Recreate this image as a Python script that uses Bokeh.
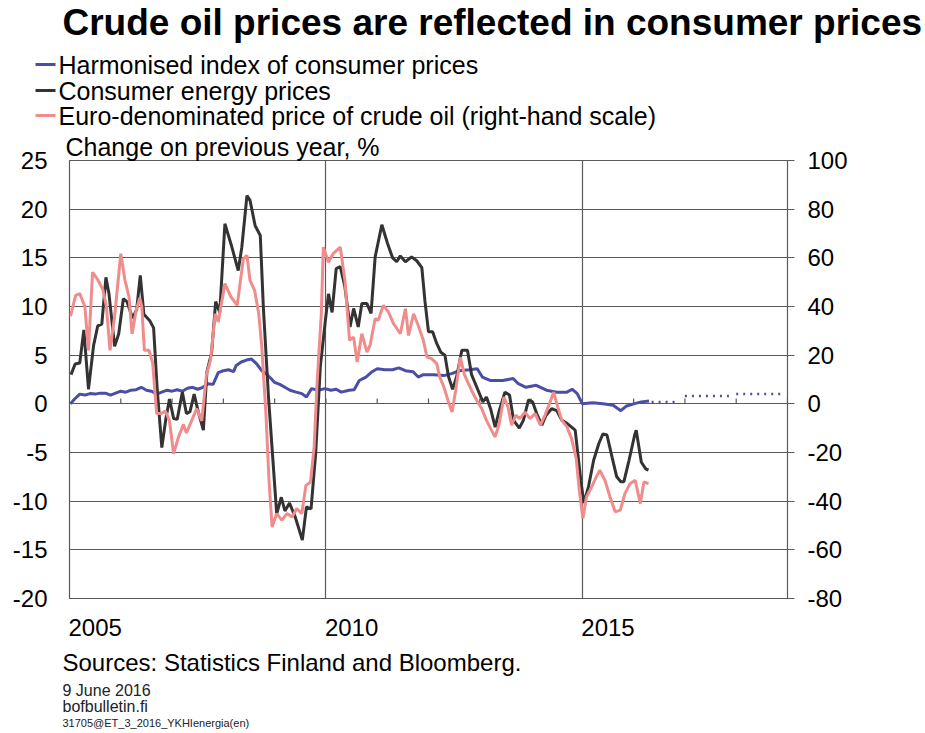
from bokeh.plotting import figure
from bokeh.layouts import column
from bokeh.models import (Range1d, LinearAxis, FixedTicker, Title, CustomJSTickFormatter)
from bokeh.core.properties import value
from bokeh.embed import file_html
from bokeh.resources import INLINE

FONT = "Liberation Sans"

# ---------------- data (decimal years) ----------------
hicp_t = [2005.02, 2005.1, 2005.2, 2005.3, 2005.4, 2005.5, 2005.6, 2005.7, 2005.8, 2005.9,
          2006.0, 2006.1, 2006.2, 2006.3, 2006.4, 2006.5, 2006.6, 2006.7, 2006.8, 2006.9,
          2007.0, 2007.1, 2007.2, 2007.3, 2007.4, 2007.5, 2007.6, 2007.7, 2007.8, 2007.9,
          2008.0, 2008.1, 2008.2, 2008.25, 2008.35, 2008.45, 2008.55, 2008.65, 2008.75, 2008.83,
          2008.93, 2009.0, 2009.1, 2009.2, 2009.3, 2009.42, 2009.53, 2009.62, 2009.72, 2009.85,
          2009.98, 2010.1, 2010.2, 2010.3, 2010.45, 2010.55, 2010.65, 2010.78, 2010.9, 2011.0,
          2011.15, 2011.3, 2011.42, 2011.55, 2011.7, 2011.8, 2011.9, 2012.1, 2012.3, 2012.45,
          2012.6, 2012.8, 2012.95, 2013.05, 2013.2, 2013.45, 2013.65, 2013.75, 2013.9, 2014.1,
          2014.3, 2014.5, 2014.7, 2014.8, 2014.9, 2015.0, 2015.2, 2015.4, 2015.6, 2015.75,
          2015.85, 2016.0, 2016.15, 2016.3]
hicp = [0.0, 0.5, 1.0, 0.9, 1.05, 1.0, 1.1, 1.1, 0.9, 1.1,
        1.3, 1.2, 1.4, 1.45, 1.7, 1.4, 1.3, 1.0, 1.2, 1.4,
        1.3, 1.45, 1.3, 1.6, 1.7, 1.5, 1.7, 2.07, 2.0, 3.2,
        3.4, 3.5, 3.3, 3.95, 4.3, 4.5, 4.6, 4.1, 3.4, 3.1,
        2.6, 2.2, 2.0, 1.7, 1.4, 1.2, 1.05, 0.7, 1.56, 1.4,
        1.56, 1.4, 1.5, 1.2, 1.4, 1.45, 2.4, 2.75, 3.3, 3.6,
        3.5, 3.5, 3.7, 3.4, 3.3, 2.75, 3.0, 3.0, 2.9, 3.1,
        3.4, 3.5, 3.6, 2.75, 2.4, 2.4, 2.6, 2.07, 1.7, 1.9,
        1.4, 1.2, 1.2, 1.5, 1.05, 0.0, 0.1, 0.0, -0.15, -0.7,
        -0.25, 0.0, 0.2, 0.3]

forecast_years = [2016, 2017, 2018]
forecast_hicp = [0.2, 0.8, 1.0]

energy_t = [2005.03, 2005.11, 2005.2, 2005.28, 2005.37, 2005.47, 2005.55, 2005.63, 2005.71, 2005.77,
            2005.88, 2005.96, 2006.05, 2006.12, 2006.23, 2006.31, 2006.38, 2006.45, 2006.57, 2006.64,
            2006.71, 2006.8, 2006.88, 2006.95, 2007.03, 2007.1, 2007.2, 2007.28, 2007.35, 2007.43,
            2007.51, 2007.61, 2007.68, 2007.77, 2007.85, 2007.93, 2008.03, 2008.15, 2008.29, 2008.36,
            2008.46, 2008.52, 2008.62, 2008.72, 2008.78, 2008.88, 2008.98, 2009.04, 2009.13, 2009.2,
            2009.29, 2009.4, 2009.54, 2009.62, 2009.71, 2009.8, 2009.89, 2009.99, 2010.05, 2010.12,
            2010.2, 2010.28, 2010.37, 2010.47, 2010.54, 2010.63, 2010.7, 2010.8, 2010.88, 2010.96,
            2011.09, 2011.2, 2011.3, 2011.38, 2011.45, 2011.55, 2011.67, 2011.77, 2011.87, 2011.93,
            2012.0, 2012.08, 2012.16, 2012.24, 2012.32, 2012.39, 2012.47, 2012.55, 2012.65, 2012.76,
            2012.84, 2012.95, 2013.06, 2013.13, 2013.21, 2013.3, 2013.38, 2013.49, 2013.58, 2013.66,
            2013.77, 2013.85, 2013.95, 2014.03, 2014.11, 2014.21, 2014.29, 2014.4, 2014.5, 2014.6,
            2014.7, 2014.79, 2014.86, 2014.92, 2014.97, 2015.03, 2015.12, 2015.22, 2015.32, 2015.4,
            2015.48, 2015.58, 2015.67, 2015.75, 2015.81, 2015.91, 2016.02, 2016.05, 2016.15, 2016.24,
            2016.29]
energy = [3.0, 4.1, 4.2, 7.6, 1.5, 6.0, 8.0, 8.2, 13.0, 11.3,
          5.9, 7.2, 10.8, 10.5, 8.8, 9.7, 13.2, 9.2, 8.5, 7.8,
          1.5, -4.5, -1.5, 0.5, -1.5, -1.6, 1.2, -1.0, -0.8, 1.0,
          -0.8, -2.7, 3.3, 5.2, 10.5, 9.4, 18.5, 16.4, 13.7, 16.1,
          21.4, 20.9, 18.3, 17.3, 9.9, 0.7, -6.8, -11.3, -9.6, -11.0,
          -10.2, -11.6, -14.0, -10.6, -10.8, -5.1, 3.8, 8.6, 11.3, 9.4,
          13.9, 14.1, 12.0, 7.9, 9.8, 7.9, 10.3, 10.3, 9.3, 15.1,
          18.4, 16.5, 15.0, 14.6, 15.2, 14.6, 15.1, 14.7, 14.0, 10.6,
          7.4, 7.4, 6.2, 5.3, 5.0, 2.8, 1.5, 2.8, 5.5, 5.5,
          3.0, 1.6, 0.2, 0.7, -0.5, -2.4, -0.7, 1.2, 0.9, -1.7,
          -2.5, -1.7, 0.4, 0.2, -1.0, -2.2, -1.2, -0.5, -0.7, -1.7,
          -2.0, -2.4, -2.7, -5.5, -7.9, -10.2, -8.5, -5.8, -4.1, -3.1,
          -3.2, -5.5, -7.5, -8.0, -8.0, -5.8, -3.2, -2.7, -6.0, -6.7,
          -6.8]

oil_t = [2005.02, 2005.12, 2005.2, 2005.3, 2005.37, 2005.45, 2005.55, 2005.65, 2005.72, 2005.79,
         2005.88, 2006.0, 2006.08, 2006.16, 2006.22, 2006.3, 2006.37, 2006.41, 2006.46, 2006.55,
         2006.62, 2006.7, 2006.78, 2006.87, 2006.95, 2007.03, 2007.12, 2007.22, 2007.28, 2007.4,
         2007.48, 2007.58, 2007.67, 2007.75, 2007.84, 2007.9, 2008.03, 2008.15, 2008.27, 2008.39,
         2008.46, 2008.52, 2008.61, 2008.69, 2008.75, 2008.83, 2008.89, 2008.95, 2009.04, 2009.14,
         2009.24, 2009.34, 2009.43, 2009.53, 2009.61, 2009.7, 2009.77, 2009.83, 2009.91, 2009.95,
         2010.05, 2010.14, 2010.28, 2010.37, 2010.46, 2010.54, 2010.61, 2010.7, 2010.8, 2010.86,
         2010.96, 2011.02, 2011.12, 2011.22, 2011.32, 2011.45, 2011.55, 2011.61, 2011.71, 2011.8,
         2011.9, 2011.97, 2012.06, 2012.16, 2012.22, 2012.3, 2012.38, 2012.46, 2012.53, 2012.62,
         2012.7, 2012.84, 2012.94, 2013.04, 2013.13, 2013.23, 2013.3, 2013.38, 2013.47, 2013.55,
         2013.62, 2013.7, 2013.78, 2013.88, 2013.98, 2014.08, 2014.18, 2014.27, 2014.36, 2014.44,
         2014.52, 2014.6, 2014.7, 2014.79, 2014.88, 2014.94, 2015.01, 2015.08, 2015.18, 2015.27,
         2015.34, 2015.44, 2015.54, 2015.64, 2015.74, 2015.83, 2015.93, 2016.03, 2016.13, 2016.2,
         2016.29]
oil = [36, 44.6, 45.3, 40, 22, 54, 51, 47, 40, 22,
       36, 61.7, 51, 44, 28.8, 38.5, 43.5, 40, 22, 22,
       17, -4, -4, -3, -7, -20.5, -14, -8.5, -12, -6,
       -2, -7, 12, 18, 37, 33.6, 49.4, 43.9, 40.5, 59.6,
       61, 50.7, 46.6, 37, 23.3, -4, -31.4, -50.6, -45.1, -47.8,
       -45.1, -46.5, -43, -45.1, -33.5, -32.1, -17.7, 9.7, 37, 64.4,
       58.2, 61.7, 64.4, 50.7, 26.1, 27.4, 17.2, 28.8, 21.3, 24,
       35, 34.3, 40.5, 37.7, 32.9, 28.8, 39.1, 28.1, 37, 32.2,
       26.1, 19.2, 18.6, 16.5, 11, 6.9, 1.4, -3.4, 5.5, 19.2,
       12, 5.5, 1.4, -2, -6.8, -10.9, -13.6, -8.1, 2.8, -1.3,
       -8.8, -4.7, -6.1, -3.4, -6.1, -4, -8.8, -4.7, 0.1, 4.8,
       -1.3, -6.8, -9.5, -14.3, -22.5, -35.5, -47.1, -38.3, -34.2, -30.1,
       -27.3, -31.4, -38.3, -44.4, -43.7, -36.9, -32.8, -31.4, -41, -32.1,
       -32.8]

left_ticks = [-20, -15, -10, -5, 0, 5, 10, 15, 20, 25]
right_ticks = [-80, -60, -40, -20, 0, 20, 40, 60, 80, 100]
year_label_ticks = [2005.5, 2010.5, 2015.5]
grid_years = [2010, 2015]
axis_years = list(range(2006, 2020))

series_names = ["Harmonised index of consumer prices",
                "Consumer energy prices",
                "Euro-denominated price of crude oil (right-hand scale)"]
title_text = "Crude oil prices are reflected in consumer prices"
unit_text = "Change on previous year, %"
footer_texts = ["Sources: Statistics Finland and Bloomberg.", "9 June 2016",
                "bofbulletin.fi", "31705@ET_3_2016_YKHIenergia(en)"]

BLUE = "#4a4fa6"
BLACK = "#333333"
RED = "#f08c8c"
GRID = "#5a5a5a"
WIDTH = 925


def blank_figure(height):
    f = figure(width=WIDTH, height=height, x_range=Range1d(0, WIDTH), y_range=Range1d(height, 0),
               x_axis_location=None, y_axis_location=None, toolbar_location=None,
               output_backend="svg", min_border=0, title=None)
    f.frame_align = False
    f.grid.visible = False
    f.outline_line_color = None
    f.background_fill_color = "white"
    f.border_fill_color = "white"
    return f


# ---------------- header: title and legend ----------------
HEAD_H = 130
hdr = blank_figure(HEAD_H)
hdr.text(x=[62], y=[22], text=[title_text], text_font=value(FONT), text_font_size=value("37px"),
         text_font_style="bold", text_baseline="middle", text_align="left", text_color="black")
leg_y = [64, 90, 115]
hdr.segment(x0=[35] * 3, y0=leg_y, x1=[55] * 3, y1=leg_y,
            line_color=[BLUE, BLACK, RED], line_width=3)
hdr.text(x=[58] * 3, y=leg_y, text=series_names, text_font=value(FONT),
         text_font_size=value("25px"), text_baseline="middle", text_align="left",
         text_color="black")

# ---------------- main chart ----------------
p = figure(frame_width=718, frame_height=438, x_range=Range1d(2005, 2019),
           y_range=Range1d(-20, 25), output_backend="svg", toolbar_location=None,
           title=None, min_border_left=69, min_border_right=138,
           min_border_top=30, min_border_bottom=48)
p.frame_align = False
p.extra_y_ranges = {"right": Range1d(-80, 100)}
p.outline_line_color = GRID
p.outline_line_width = 1.2
p.background_fill_color = "white"
p.border_fill_color = "white"

int_fmt = "return tick.toFixed(0);"

p.xaxis.ticker = FixedTicker(ticks=year_label_ticks)
p.xaxis.formatter = CustomJSTickFormatter(code="return Math.floor(tick).toFixed(0);")
p.xaxis.axis_line_color = None
p.xaxis.major_tick_line_color = None
p.xaxis.major_tick_out = 0
p.xaxis.minor_tick_line_color = None
p.xaxis.major_label_standoff = 20
p.xaxis.major_label_text_font = FONT
p.xaxis.major_label_text_font_size = "24px"
p.xaxis.major_label_text_color = "black"

p.yaxis.ticker = FixedTicker(ticks=left_ticks)
p.yaxis.formatter = CustomJSTickFormatter(code=int_fmt)
p.yaxis.axis_line_color = None
p.yaxis.major_tick_line_color = None
p.yaxis.major_tick_out = 0
p.yaxis.minor_tick_line_color = None
p.yaxis.major_label_standoff = 22
p.yaxis.major_label_text_font = FONT
p.yaxis.major_label_text_font_size = "24px"
p.yaxis.major_label_text_color = "black"

ax_r = LinearAxis(y_range_name="right", ticker=FixedTicker(ticks=right_ticks),
                  formatter=CustomJSTickFormatter(code=int_fmt))
ax_r.axis_line_color = None
ax_r.major_tick_in = 0
ax_r.major_tick_out = 7
ax_r.major_tick_line_color = GRID
ax_r.major_tick_line_width = 1.2
ax_r.minor_tick_line_color = None
ax_r.major_label_standoff = 13
ax_r.major_label_text_font = FONT
ax_r.major_label_text_font_size = "24px"
ax_r.major_label_text_color = "black"
p.add_layout(ax_r, "right")

p.xgrid.ticker = FixedTicker(ticks=grid_years)
p.xgrid.grid_line_color = GRID
p.xgrid.grid_line_width = 1.2
p.ygrid.ticker = FixedTicker(ticks=left_ticks)
p.ygrid.grid_line_color = GRID
p.ygrid.grid_line_width = 1.2

# small year ticks on the zero line
p.segment(x0=axis_years, y0=[0] * len(axis_years), x1=axis_years, y1=[0.55] * len(axis_years),
          line_color=GRID, line_width=1.2)

p.line(hicp_t, hicp, line_color=BLUE, line_width=3)
fc_x0 = [max(y, hicp_t[-1] + 0.05) for y in forecast_years]
fc_x1 = [y + 0.87 for y in forecast_years]
p.segment(x0=fc_x0, y0=forecast_hicp, x1=fc_x1, y1=forecast_hicp,
          line_color=BLUE, line_width=2.5, line_dash="2 5")
p.line(energy_t, energy, line_color=BLACK, line_width=3)
p.line(oil_t, oil, line_color=RED, line_width=3, y_range_name="right")

p.add_layout(Title(text=unit_text, align="left", offset=-4, standoff=0,
                   text_font=FONT, text_font_size="25px", text_color="black",
                   text_font_style="normal"), "above")

# ---------------- footer ----------------
FOOT_H = 86
ftr = blank_figure(FOOT_H)
ftr.text(x=[62], y=[16], text=footer_texts[:1], text_font=value(FONT),
         text_font_size=value("24px"), text_baseline="middle", text_align="left",
         text_color="black")
ftr.text(x=[62, 62], y=[44, 60], text=footer_texts[1:3], text_font=value(FONT),
         text_font_size=value("16px"), text_baseline="middle", text_align="left",
         text_color="#222222")
ftr.text(x=[62], y=[76], text=footer_texts[3:], text_font=value(FONT),
         text_font_size=value("11px"), text_baseline="middle", text_align="left",
         text_color="#222222")

layout = column(hdr, p, ftr, spacing=0)
open("out.html", "w").write(file_html(layout, INLINE))
